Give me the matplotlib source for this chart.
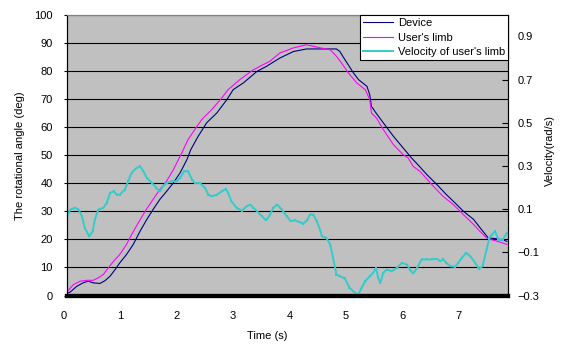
import matplotlib
matplotlib.use("Agg")
import matplotlib.pyplot as plt
import matplotlib.transforms as mtransforms
import numpy as np

plt.rcParams['font.family'] = ['Liberation Sans', 'DejaVu Sans']
plt.rcParams['font.size'] = 8

# Device angle (deg)
device_t = [0.00, 0.06, 0.18, 0.29, 0.38, 0.47, 0.59, 0.68, 0.77, 0.86, 0.94,
            1.06, 1.18, 1.30, 1.42, 1.53, 1.65, 1.77, 1.89, 2.01, 2.13, 2.20,
            2.33, 2.48, 2.66, 2.84, 2.95, 3.13, 3.37, 3.54, 3.78, 4.02, 4.25,
            4.49, 4.78, 4.84, 4.93, 5.08, 5.17, 5.32, 5.37, 5.40, 5.46, 5.61,
            5.79, 5.96, 6.11, 6.25, 6.38, 6.56, 6.73, 6.88, 7.03, 7.21, 7.35,
            7.47, 7.62, 7.74, 7.80]
device_deg = [0.7, 1.2, 3.3, 4.5, 5.1, 4.5, 4.3, 5.3, 6.9, 9.3, 11.6,
              14.6, 18.2, 22.9, 27.1, 30.6, 34.2, 37.1, 40.1, 43.7, 48.4, 52.0,
              56.7, 61.5, 65.0, 69.8, 73.3, 75.7, 79.8, 81.6, 84.6, 86.9, 87.8,
              87.8, 87.8, 86.9, 84.0, 79.3, 76.9, 74.5, 71.5, 67.4, 65.6, 61.5,
              56.7, 52.6, 49.0, 46.0, 43.1, 39.5, 35.9, 33.0, 30.0, 27.1, 23.5,
              20.5, 20.2, 19.7, 19.3]

# User's limb angle (deg)
limb_t = [0.00, 0.12, 0.24, 0.35, 0.47, 0.56, 0.65, 0.74, 0.83, 0.94, 1.06,
          1.15, 1.27, 1.39, 1.53, 1.65, 1.77, 1.89, 1.97, 2.04, 2.15, 2.27,
          2.39, 2.57, 2.75, 2.86, 3.07, 3.31, 3.48, 3.60, 3.78, 4.02, 4.25,
          4.49, 4.67, 4.78, 4.87, 4.99, 5.14, 5.29, 5.37, 5.40, 5.49, 5.61,
          5.79, 5.96, 6.05, 6.14, 6.26, 6.47, 6.67, 6.85, 7.03, 7.21, 7.32,
          7.44, 7.56, 7.68, 7.80]
limb_deg = [1.2, 3.9, 5.1, 5.4, 5.4, 6.3, 7.5, 9.9, 12.2, 14.6, 18.2,
            21.7, 25.9, 30.0, 34.2, 37.7, 40.7, 44.8, 48.0, 50.8, 55.5, 59.1,
            62.6, 66.2, 70.4, 73.3, 76.9, 80.4, 82.2, 83.4, 86.4, 88.2, 89.3,
            88.2, 87.5, 85.2, 82.8, 79.3, 75.7, 73.3, 69.8, 65.0, 63.2, 59.1,
            53.7, 50.2, 49.0, 46.0, 44.2, 39.5, 35.3, 32.4, 28.8, 25.3, 22.9,
            20.5, 19.7, 19.0, 18.2]

# Velocity of user's limb (rad/s)
vel_t = [0.00, 0.06, 0.15, 0.21, 0.27, 0.32, 0.40, 0.46, 0.50, 0.56, 0.65,
         0.71, 0.77, 0.83, 0.89, 0.94, 1.03, 1.09, 1.15, 1.24, 1.30, 1.36,
         1.42, 1.51, 1.59, 1.65, 1.71, 1.77, 1.86, 1.95, 2.01, 2.08, 2.15,
         2.22, 2.27, 2.36, 2.45, 2.51, 2.57, 2.66, 2.75, 2.82, 2.86, 2.92,
         3.01, 3.10, 3.19, 3.25, 3.31, 3.40, 3.46, 3.53, 3.59, 3.66, 3.73,
         3.81, 3.90, 3.97, 4.05, 4.13, 4.19, 4.26, 4.31, 4.37, 4.43, 4.49,
         4.52, 4.60, 4.67, 4.72, 4.78, 4.84, 4.93, 5.01, 5.11, 5.17, 5.21,
         5.29, 5.37, 5.43, 5.48, 5.52, 5.56, 5.61, 5.67, 5.76, 5.85, 5.94,
         6.03, 6.08, 6.14, 6.21, 6.29, 6.38, 6.47, 6.56, 6.62, 6.67, 6.73,
         6.79, 6.88, 6.94, 7.00, 7.08, 7.15, 7.24, 7.31, 7.37, 7.44, 7.49,
         7.53, 7.59, 7.65, 7.73, 7.80]
vel_rad = [0.059, 0.098, 0.106, 0.098, 0.067, 0.013, -0.026, -0.003, 0.052, 0.098, 0.106,
           0.129, 0.175, 0.182, 0.167, 0.167, 0.190, 0.229, 0.268, 0.291, 0.298, 0.275,
           0.244, 0.221, 0.198, 0.182, 0.206, 0.221, 0.229, 0.229, 0.244, 0.275, 0.275,
           0.237, 0.221, 0.221, 0.198, 0.167, 0.159, 0.167, 0.182, 0.193, 0.175, 0.136,
           0.106, 0.093, 0.113, 0.121, 0.106, 0.083, 0.067, 0.048, 0.067, 0.106, 0.121,
           0.098, 0.067, 0.044, 0.048, 0.039, 0.033, 0.048, 0.075, 0.075, 0.044, 0.005,
           -0.026, -0.033, -0.064, -0.126, -0.203, -0.211, -0.221, -0.264, -0.288, -0.295, -0.272,
           -0.234, -0.211, -0.195, -0.172, -0.218, -0.241, -0.195, -0.180, -0.188, -0.172, -0.149,
           -0.157, -0.180, -0.198, -0.172, -0.133, -0.133, -0.133, -0.130, -0.141, -0.133, -0.149,
           -0.164, -0.167, -0.149, -0.126, -0.103, -0.118, -0.149, -0.177, -0.164, -0.087, -0.033,
           -0.018, -0.003, -0.041, -0.041, -0.010]

x_ticks = [0, 1, 2, 3, 4, 5, 6, 7]
angle_ticks = [0, 10, 20, 30, 40, 50, 60, 70, 80, 90, 100]
vel_ticks = [-0.3, -0.1, 0.1, 0.3, 0.5, 0.7, 0.9]

W, H = 561, 345
fig = plt.figure(figsize=(W / 100, H / 100), dpi=100)
fig.patch.set_facecolor('white')

left, right, top, bottom = 66.7, 508.0, 14.7, 295.5
ax = fig.add_axes([left / W, 1 - bottom / H, (right - left) / W, (bottom - top) / H])
ax.set_facecolor('#C0C0C0')
ax2 = ax.twinx()

l1, = ax.plot(device_t, device_deg, color='#000080', lw=0.8, label='Device', zorder=3)
l2, = ax.plot(limb_t, limb_deg, color='#FF00FF', lw=0.8, label="User's limb", zorder=3)
l3, = ax2.plot(vel_t, vel_rad, color='#33CCCC', lw=1.4, marker='s', markersize=1.6,
               markeredgewidth=0, label="Velocity of user's limb")

ax.set_xlim(0, 7.82)
ax.set_ylim(0, 100)
ax2.set_ylim(-0.3, 1.0)

ax.set_xticks(x_ticks)
ax.set_yticks(angle_ticks)
ax2.set_yticks(vel_ticks)
ax2.set_yticklabels([f"{v:.1f}".replace('-', '\u2212') for v in vel_ticks])

ax.yaxis.grid(True, color='black', lw=0.8)
ax.set_axisbelow(True)
ax.tick_params(axis='x', length=0, pad=11)
ax.tick_params(axis='y', direction='out', length=2, width=0.8, pad=8)
ax2.tick_params(axis='y', direction='in', length=4, width=0.8, pad=7)

# shift the time labels slightly left of their tick positions
shift = mtransforms.ScaledTranslation(-0.03, 0, fig.dpi_scale_trans)
for lbl in ax.get_xticklabels():
    lbl.set_transform(lbl.get_transform() + shift)

for a in (ax, ax2):
    a.spines['top'].set_color('#808080')
    a.spines['top'].set_linewidth(0.8)
    a.spines['left'].set_color('black')
    a.spines['left'].set_linewidth(0.8)
    a.spines['right'].set_color('black')
    a.spines['right'].set_linewidth(0.8)
    a.spines['bottom'].set_color('black')
    a.spines['bottom'].set_linewidth(3.0)

ax.set_xlabel('Time (s)')
ax.xaxis.set_label_coords((267.5 - left) / (right - left), -(336 - bottom) / (bottom - top), transform=ax.transAxes)
ax.set_ylabel('The rotational angle (deg)')
ax.yaxis.set_label_coords(-(left - 20) / (right - left), (bottom - 155.5) / (bottom - top))
ax2.set_ylabel('Velocity(rad/s)')
ax2.yaxis.set_label_coords(1 + (550 - right) / (right - left), (bottom - 150) / (bottom - top))
ax.xaxis.label.set_va('center')
ax.yaxis.label.set_va('center')
ax2.yaxis.label.set_va('center')

leg = ax2.legend(handles=[l1, l2, l3], loc='upper left',
                 bbox_to_anchor=(360 / W, 1 - 15 / H), bbox_transform=fig.transFigure,
                 borderaxespad=0, frameon=True, fancybox=False, framealpha=1,
                 edgecolor='black', facecolor='white', fontsize=8,
                 handlelength=2.7, handletextpad=0.4, labelspacing=0.38,
                 borderpad=0.3)
leg.get_frame().set_linewidth(0.8)
leg.set_zorder(10)

fig.savefig('out.png', dpi=100, facecolor='white')
